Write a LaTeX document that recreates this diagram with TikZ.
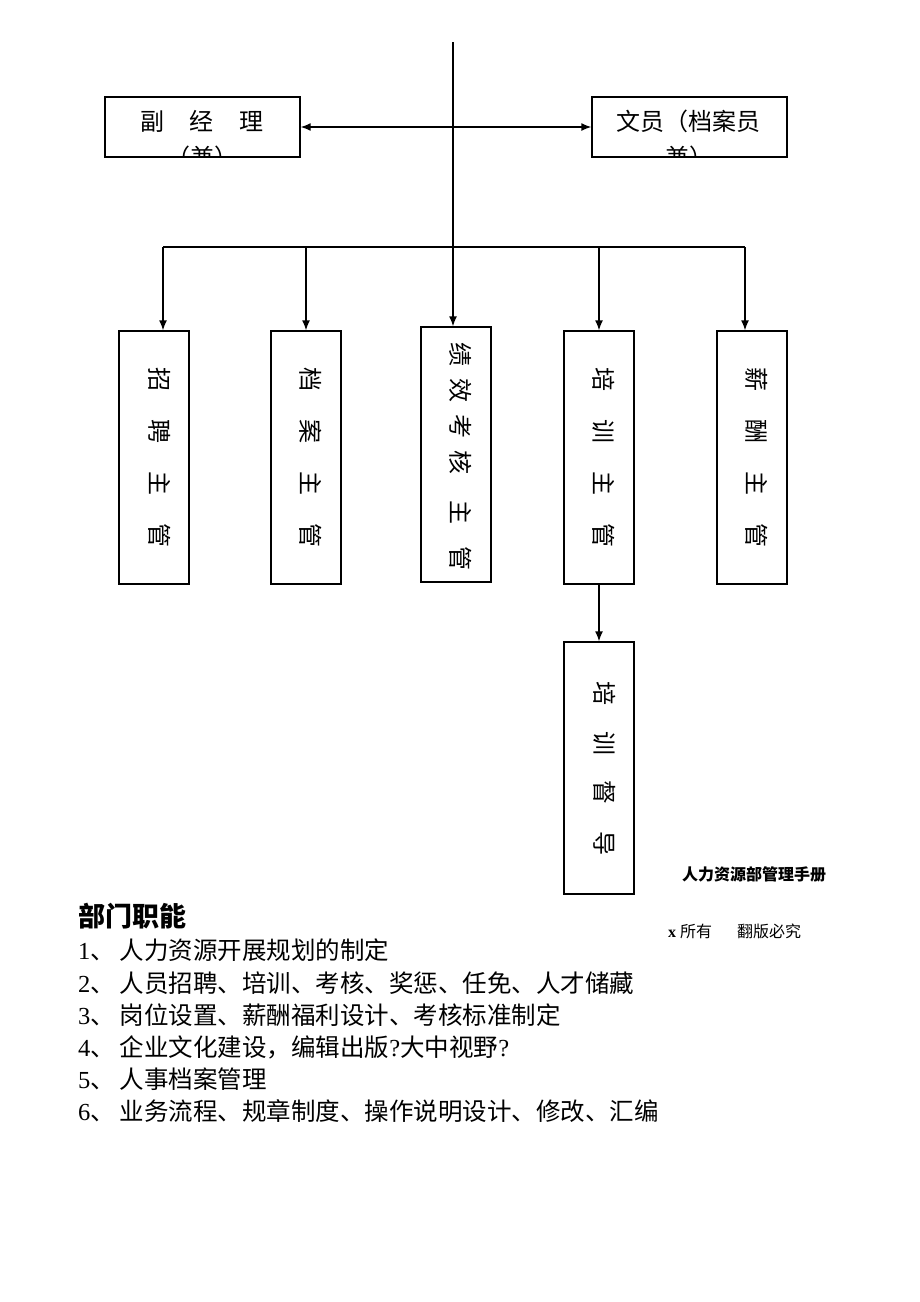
\documentclass[tikz,border=0pt]{standalone}
\usepackage{fontspec}
\setmainfont{Noto Sans CJK SC}
\newfontfamily\numfont{Liberation Serif}
\usetikzlibrary{arrows.meta}

\tikzset{
	box/.style={draw, line width=1.4pt, inner sep=0pt},
	hbox/.style={box, minimum width=195pt, minimum height=60pt},
	vbox/.style={box, minimum width=70pt, minimum height=253pt},
	boxtext/.style={inner sep=0pt, font=\fontsize{24}{24}\selectfont},
	vtext/.style={boxtext, rotate=-90},
	bar/.style={line width=1.4pt},
	link/.style={line width=1.4pt, -{Latex[length=10pt,width=8pt]}},
	dlink/.style={line width=1.4pt, {Latex[length=10pt,width=8pt]}-{Latex[length=10pt,width=8pt]}},
	item/.style={anchor=west, inner sep=0pt, font=\fontsize{24.5}{24.5}\selectfont},
	note/.style={anchor=west, inner sep=0pt, font=\fontsize{16}{16}\selectfont},
}

\begin{document}
\begin{tikzpicture}[x=1pt,y=-1pt]
		\useasboundingbox (0,0) rectangle (920,1302);
		% top row
		\node[hbox] (fjl) at (202.5,127) {};
		\node[hbox] (wy) at (689.5,127) {};
		\begin{scope}
			\clip (fjl.south west) rectangle (fjl.north east);
			\node[boxtext] (fjl1) at (202,121) {副\hspace{26pt}经\hspace{26pt}理};
			\node[boxtext] (fjl2) at (202,157) {（兼）};
		\end{scope}
		\begin{scope}
			\clip (wy.south west) rectangle (wy.north east);
			\node[boxtext] (wy1) at (688.5,121) {文员（档案员};
			\node[boxtext] (wy2) at (689,157) {兼）};
		\end{scope}
		
		% managers
		\node[vbox] (zp) at (154,457.5) {};
		\node[vbox] (da) at (306,457.5) {};
		\node[vbox, minimum height=255pt] (jx) at (456,454.5) {};
		\node[vbox] (px) at (599,457.5) {};
		\node[vbox] (xc) at (752,457.5) {};
		\node[vbox, minimum height=252pt] (pd) at (599,768) {};
		\node[vtext] (zpt) at ([xshift=6pt]zp.center) {招\hspace{28pt}聘\hspace{28pt}主\hspace{28pt}管};
		\node[vtext] (dat) at ([xshift=5pt]da.center) {档\hspace{28pt}案\hspace{28pt}主\hspace{28pt}管};
		\node[vtext] (jxt) at ([xshift=5pt,yshift=-2pt]jx.center) {绩\hspace{12pt}效\hspace{12pt}考\hspace{12pt}核\hspace{26pt}主\hspace{22pt}管};
		\node[vtext] (pxt) at ([xshift=5pt]px.center) {培\hspace{28pt}训\hspace{28pt}主\hspace{28pt}管};
		\node[vtext] (xct) at ([xshift=5pt]xc.center) {薪\hspace{28pt}酬\hspace{28pt}主\hspace{28pt}管};
		\node[vtext] (pdt) at ([xshift=6pt]pd.center) {培\hspace{26pt}训\hspace{26pt}督\hspace{26pt}导};
		
		\coordinate (top) at (453,42);
		\coordinate (barL) at (163,247);
		\coordinate (barR) at (745,247);
		
		\draw[dlink] (fjl.east) -- (wy.west);
		\draw[bar] (barL) -- (barR);
		\draw[link] (top) -- (top |- jx.north);
		\draw[link] (barL) -- (barL |- zp.north);
		\draw[link] (da.north |- barL) -- (da.north);
		\draw[link] (px.north |- barL) -- (px.north);
		\draw[link] (barR) -- (barR |- xc.north);
		\draw[link] (px.south) -- (pd.north);
		
		% notes
		\node[note, font=\bfseries\fontsize{16}{16}\selectfont] (manual) at (682,874) {人力资源部管理手册};
		\node[note] (rights) at (668,931) {{\numfont\bfseries x}\hspace{4pt}所有\hspace{25pt}翻版必究};
		
		% functions
		\node[item, font=\bfseries\fontsize{27}{27}\selectfont] (title) at (78,916) {部门职能};
		\node[item] (f1) at (78,950) {{\numfont 1}、\hspace{5pt}人力资源开展规划的制定};
		\node[item] (f2) at (78,983) {{\numfont 2}、\hspace{5pt}人员招聘、培训、考核、奖惩、任免、人才储藏};
		\node[item] (f3) at (78,1015) {{\numfont 3}、\hspace{5pt}岗位设置、薪酬福利设计、考核标准制定};
		\node[item] (f4) at (78,1047) {{\numfont 4}、\hspace{5pt}企业文化建设，编辑出版{\numfont ?}大中视野{\numfont ?}};
		\node[item] (f5) at (78,1079) {{\numfont 5}、\hspace{5pt}人事档案管理};
		\node[item] (f6) at (78,1111) {{\numfont 6}、\hspace{5pt}业务流程、规章制度、操作说明设计、修改、汇编};
	\end{tikzpicture}
\end{document}
